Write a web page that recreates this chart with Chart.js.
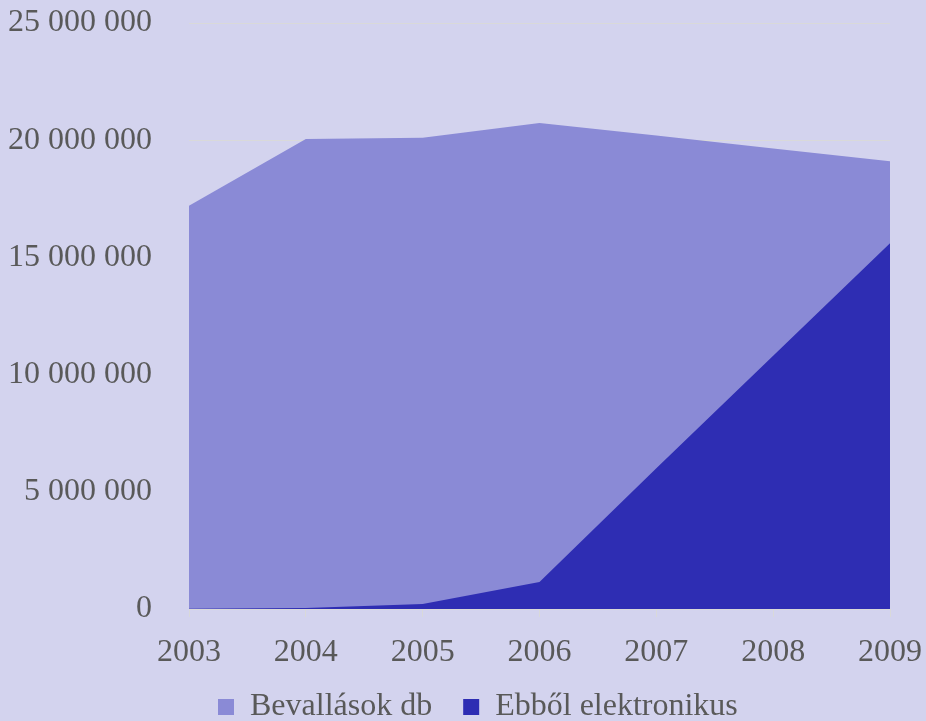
<!DOCTYPE html>
<html>
<head>
<meta charset="utf-8">
<script src="https://cdn.jsdelivr.net/npm/chart.js@4"></script>
<style>
  html, body { margin: 0; padding: 0; background: #d3d3ee; }
  #wrap { position: relative; width: 926px; height: 721px; }
</style>
</head>
<body>
<div id="wrap"><canvas id="chart"></canvas></div>
<script>
const years = ["2003", "2004", "2005", "2006", "2007", "2008", "2009"];
const bevallasok = [17200000, 20050000, 20100000, 20730000, 20200000, 19650000, 19100000];
const elektronikus = [10000, 40000, 210000, 1150000, 6000000, 10800000, 15600000];
const yTicks = [0, 5000000, 10000000, 15000000, 20000000, 25000000];

const textColor = "#595959";
const serif = "'Liberation Serif', 'Times New Roman', serif";
const fontSize = 32;

function fmtNum(v) {
  return String(v).replace(/\B(?=(\d{3})+(?!\d))/g, " ");
}

// legend row sits lower and a bit right of centre in the original;
// also let the year labels spill below the (squeezed) x axis box
const legendNudge = {
  id: "legendNudge",
  afterLayout(chart) {
    const lg = chart.legend;
    if (lg && lg.lineWidths && lg.lineWidths.length) {
      const pad = lg.options.labels.padding;
      const start = (lg.left + pad + lg.right - lg.lineWidths[0]) / 2;
      const dx = 218 - start;
      const dy = 707 - (lg.top + pad + fontSize / 2);
      lg.left += dx; lg.right += dx;
      lg.top += dy; lg.bottom += dy;
    }
    if (chart.scales.x) chart.scales.x.bottom = chart.height;
  },
};

new Chart(document.getElementById("chart"), {
  type: "line",
  data: {
    labels: years,
    datasets: [
      // drawn on top, so it goes first; legend is reversed below
      {
        label: "Ebből elektronikus",
        data: elektronikus,
        borderWidth: 0,
        borderColor: "#2e2db3",
        backgroundColor: "#2e2db3",
        fill: "origin",
        pointRadius: 0,
        tension: 0,
      },
      {
        label: "Bevallások db",
        data: bevallasok,
        borderWidth: 0,
        borderColor: "#8a8ad6",
        backgroundColor: "#8a8ad6",
        fill: "origin",
        pointRadius: 0,
        tension: 0,
      },
    ],
  },
  plugins: [legendNudge],
  options: {
    responsive: true,
    maintainAspectRatio: false,
    animation: false,
    layout: { padding: { top: 23, right: 36, left: 0, bottom: 0 } },
    plugins: {
      tooltip: { enabled: false },
      legend: {
        position: "bottom",
        reverse: true,
        labels: {
          color: textColor,
          font: { family: serif, size: fontSize },
          boxWidth: 16,
          boxHeight: 16,
          padding: 31,
        },
      },
    },
    scales: {
      x: {
        offset: false,
        afterFit: (axis) => {
          const lh = axis.chart.legend ? axis.chart.legend.height : 0;
          axis.height = Math.max(10, 112 - lh);
        },
        grid: { drawOnChartArea: false, drawTicks: true, tickLength: 8, color: "#d9d9d9" },
        border: { color: "#d9d9d9" },
        ticks: { color: textColor, font: { family: serif, size: fontSize, lineHeight: 2 }, maxRotation: 0, padding: 4 },
      },
      y: {
        min: 0,
        max: 25000000,
        afterBuildTicks: (axis) => { axis.ticks = yTicks.map((v) => ({ value: v })); },
        afterFit: (axis) => { axis.width = 189; },
        grid: { color: "#d9d9d9", drawTicks: true, tickLength: 37, tickColor: "rgba(0,0,0,0)" },
        border: { display: false },
        ticks: { color: textColor, font: { family: serif, size: fontSize, lineHeight: 1 }, padding: 0, callback: (v) => fmtNum(v) },
      },
    },
  },
});
</script>
</body>
</html>
